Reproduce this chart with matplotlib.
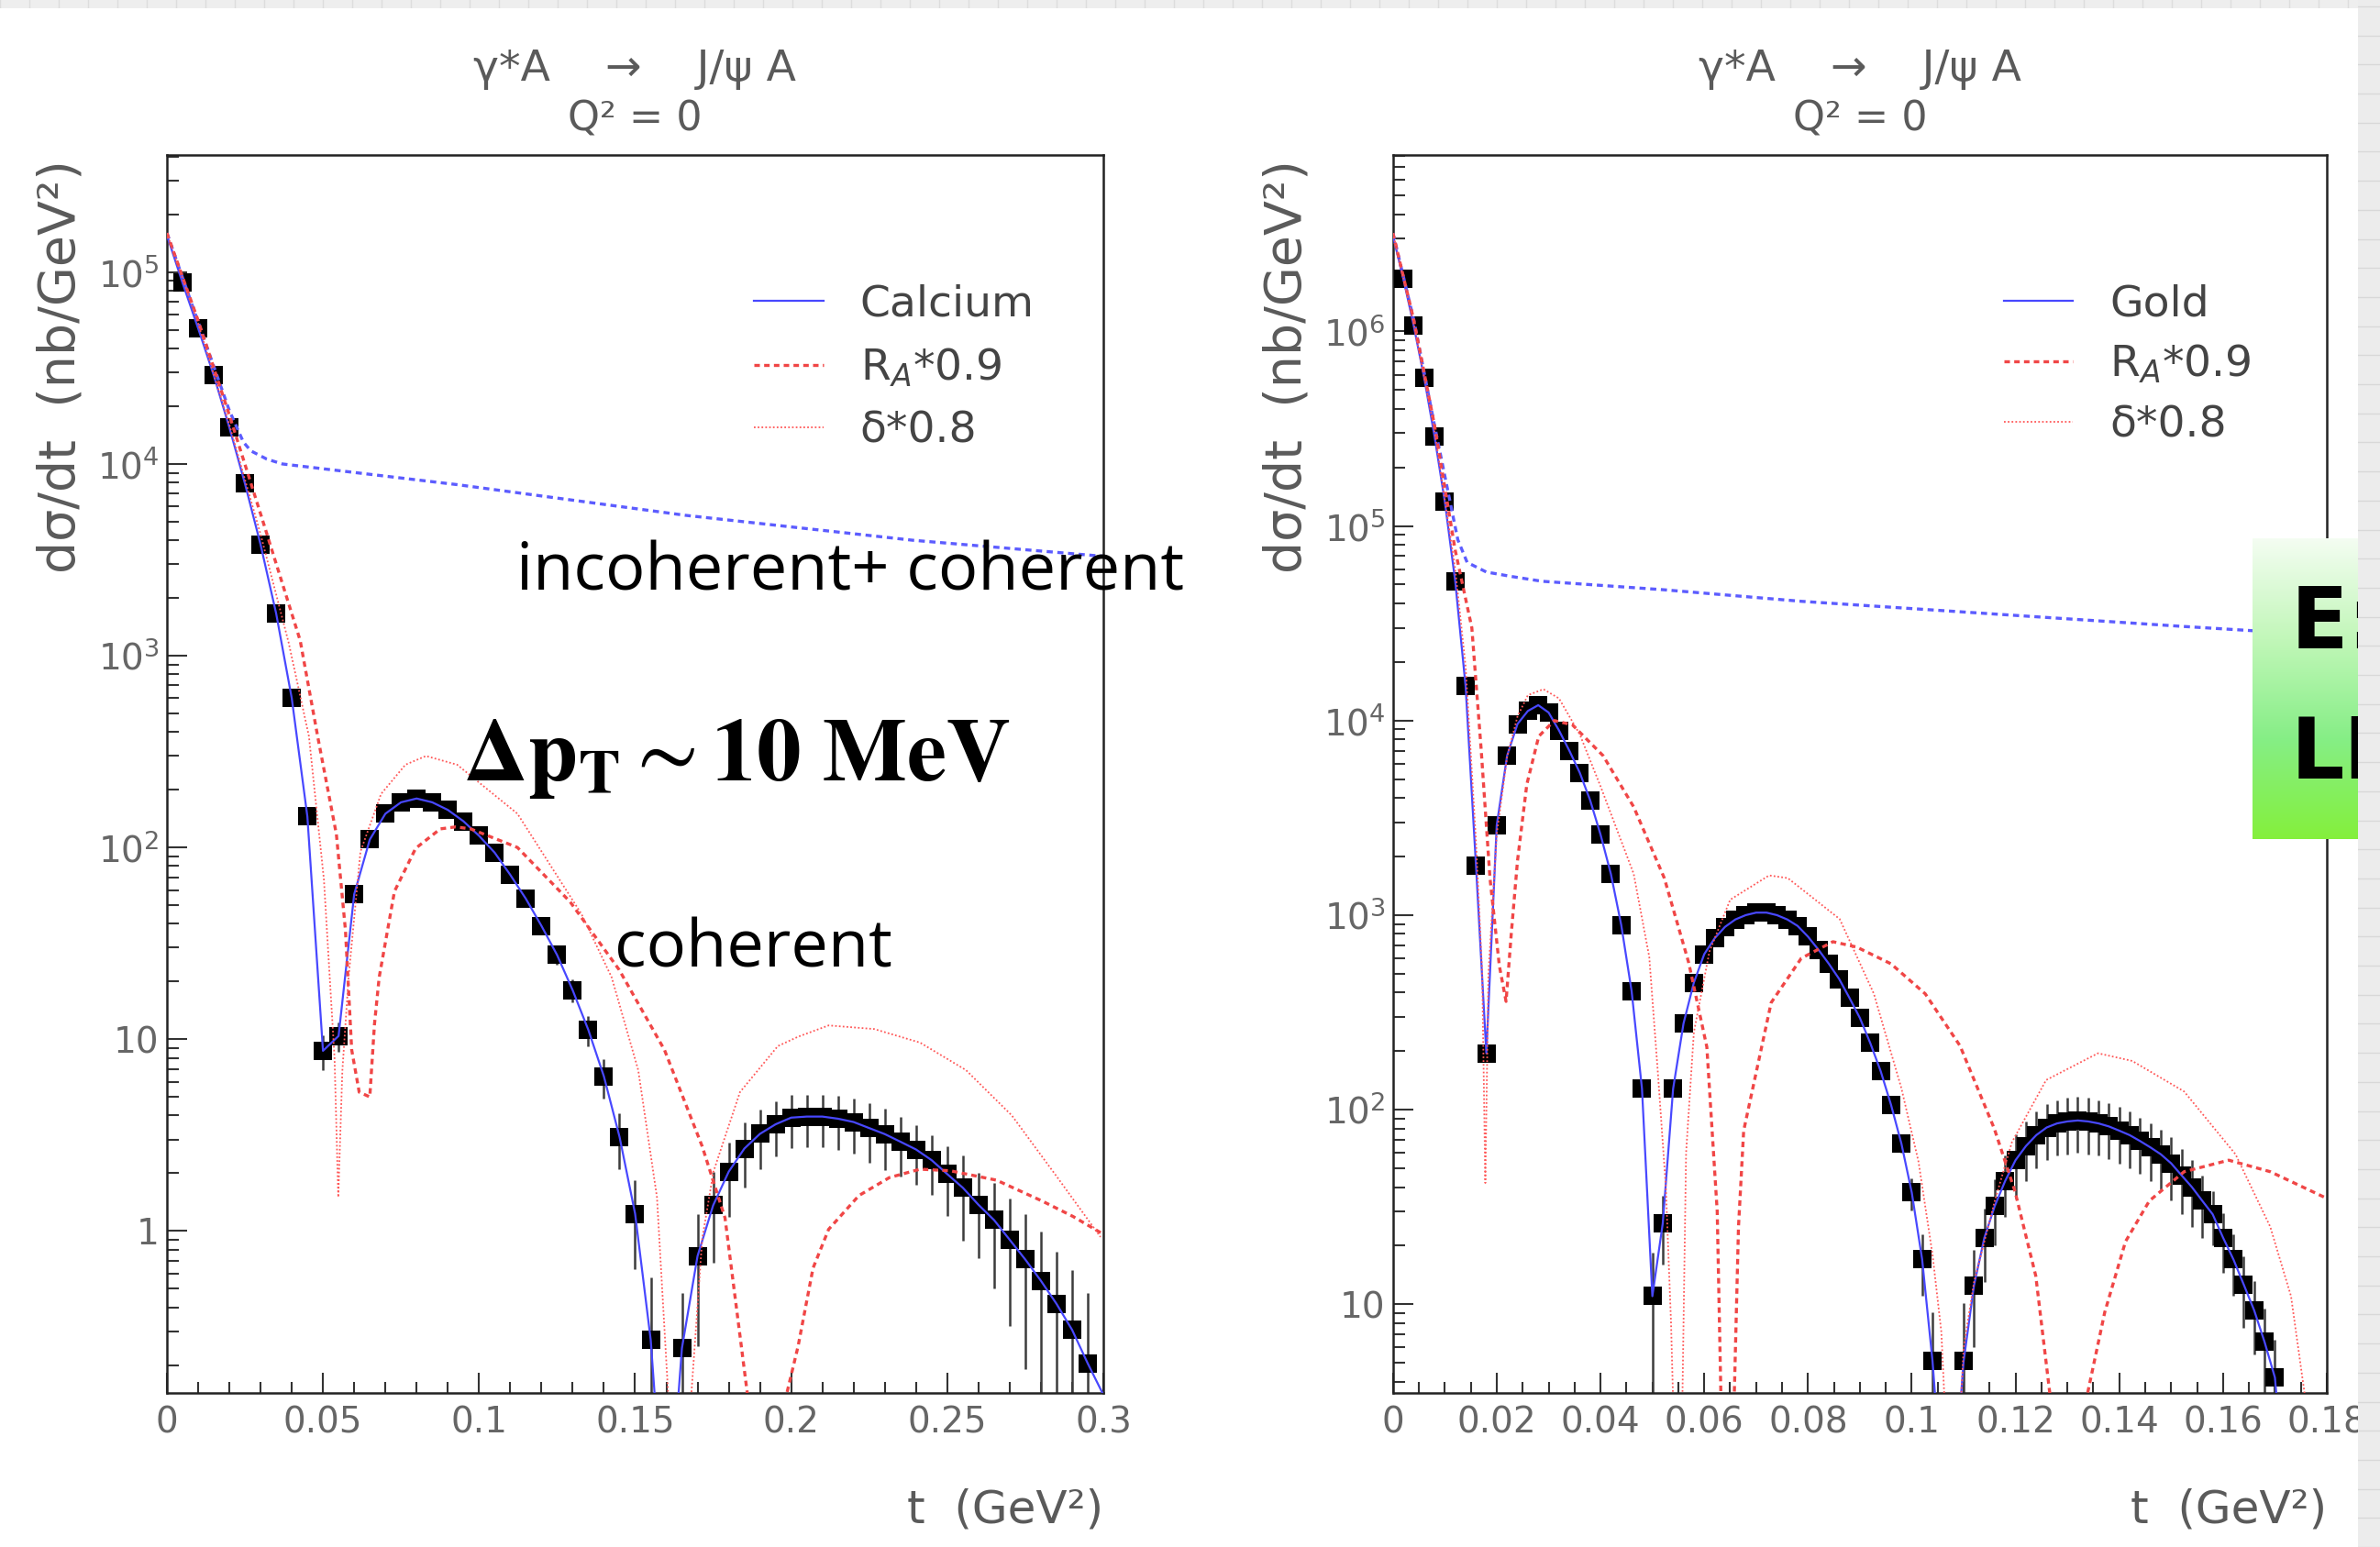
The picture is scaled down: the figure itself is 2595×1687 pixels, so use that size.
import numpy as np
import matplotlib.pyplot as plt
from matplotlib.ticker import FixedLocator, MultipleLocator, LogLocator, NullFormatter
from matplotlib.colors import LinearSegmentedColormap

# ---------------- Calcium (left panel) ----------------
ca_t = [0.005, 0.010, 0.015, 0.020, 0.025, 0.030, 0.035, 0.040, 0.045, 0.050,
        0.055, 0.060, 0.065, 0.070, 0.075, 0.080, 0.085, 0.090, 0.095, 0.100,
        0.105, 0.110, 0.115, 0.120, 0.125, 0.130, 0.135, 0.140, 0.145, 0.150,
        0.155, 0.165, 0.170, 0.175, 0.180, 0.185, 0.190, 0.195, 0.200, 0.205,
        0.210, 0.215, 0.220, 0.225, 0.230, 0.235, 0.240, 0.245, 0.250, 0.255,
        0.260, 0.265, 0.270, 0.275, 0.280, 0.285, 0.290, 0.295]
ca_y = [8.8e4, 5.1e4, 2.9e4, 1.55e4, 7.9e3, 3.8e3, 1.66e3, 600, 145, 8.7,
        10.4, 57, 110, 150, 172, 180, 172, 157, 137, 115,
        94, 72, 54, 39, 27.5, 18, 11.2, 6.4, 3.1, 1.23,
        0.27, 0.245, 0.74, 1.36, 2.04, 2.69, 3.21, 3.6, 3.9, 3.95,
        3.95, 3.85, 3.7, 3.44, 3.2, 2.92, 2.66, 2.34, 1.98, 1.68,
        1.37, 1.14, 0.90, 0.71, 0.55, 0.417, 0.305, 0.204]
ca_err = [400, 300, 200, 120, 70, 40, 25, 12, 6, 1.8,
          1.8, 4, 5, 6, 6, 6, 6, 6, 5.5, 5,
          5, 4.5, 4, 3.5, 3, 2.5, 2, 1.5, 1.0, 0.6,
          0.3, 0.23, 0.49, 0.68, 0.86, 1.0, 1.1, 1.15, 1.2, 1.2,
          1.2, 1.2, 1.18, 1.18, 1.12, 1.0, 0.91, 0.8, 0.78, 0.79,
          0.65, 0.64, 0.58, 0.52, 0.44, 0.36, 0.32, 0.27]
# extra points of the solid model curve (start and the dips)
ca_fit_xt = [0.0, 0.160, 0.300]
ca_fit_xy = [1.56e5, 0.02, 0.14]

ca_dash_t = [0.0, 0.01, 0.02, 0.03, 0.0427, 0.0484, 0.0543, 0.0572, 0.0592, 0.0616,
             0.0650, 0.0665, 0.068, 0.0729, 0.0797, 0.0876, 0.0925, 0.0973, 0.1123, 0.1292,
             0.1449, 0.1594, 0.1715, 0.1788, 0.186, 0.193, 0.1985, 0.2022, 0.207, 0.212,
             0.2217, 0.2315, 0.2413, 0.251, 0.2658, 0.2805, 0.2903, 0.2996]
ca_dash_y = [1.6e5, 5.6e4, 1.8e4, 5.5e3, 1.2e3, 372, 117, 37, 8.8, 5.3,
             5.0, 12, 21, 59, 99, 125, 128, 125, 100, 52,
             23, 8.8, 2.76, 1.17, 0.14, 0.01, 0.14, 0.25, 0.64, 1.02,
             1.53, 1.9, 2.1, 2.06, 1.84, 1.43, 1.19, 0.97]

ca_dot_t = [0.0, 0.01, 0.02, 0.03, 0.039, 0.0455, 0.0503, 0.0537, 0.0549, 0.0562,
            0.0582, 0.062, 0.0686, 0.0764, 0.083, 0.093, 0.1123, 0.1328, 0.1425, 0.151,
            0.157, 0.1606, 0.164, 0.168, 0.1715, 0.1751, 0.1836, 0.1957, 0.2022, 0.212,
            0.2266, 0.2413, 0.256, 0.2707, 0.2853, 0.2991]
ca_dot_y = [1.6e5, 5.4e4, 1.6e4, 4.3e3, 1.17e3, 380, 68, 8, 1.5, 6.8,
            21, 95, 190, 270, 300, 270, 150, 45, 21, 6.9,
            1.5, 0.14, 0.01, 0.14, 0.91, 2.04, 5.3, 9.2, 10.3, 11.8,
            11.3, 9.6, 6.9, 4.0, 1.9, 0.93]

ca_inc_t = [0.0, 0.01, 0.02, 0.0245, 0.0269, 0.032, 0.037, 0.093, 0.166, 0.239, 0.300]
ca_inc_y = [1.6e5, 5.5e4, 1.9e4, 1.3e4, 1.17e4, 1.06e4, 1.0e4, 7.8e3, 5.4e3, 4.0e3, 3.3e3]

# ---------------- Gold (right panel) ----------------
au_t = [0.002, 0.004, 0.006, 0.008, 0.010, 0.012, 0.014, 0.016, 0.018, 0.020,
        0.022, 0.024, 0.026, 0.028, 0.030, 0.032, 0.034, 0.036, 0.038, 0.040,
        0.042, 0.044, 0.046, 0.048, 0.050, 0.052, 0.054, 0.056, 0.058, 0.060,
        0.062, 0.064, 0.066, 0.068, 0.070, 0.072, 0.074, 0.076, 0.078, 0.080,
        0.082, 0.084, 0.086, 0.088, 0.090, 0.092, 0.094, 0.096, 0.098, 0.100,
        0.102, 0.104,
        0.110, 0.112, 0.114, 0.116, 0.118, 0.120, 0.122, 0.124, 0.126, 0.128,
        0.130, 0.132, 0.134, 0.136, 0.138, 0.140, 0.142, 0.144, 0.146, 0.148,
        0.150, 0.152, 0.154, 0.156, 0.158, 0.160, 0.162, 0.164, 0.166, 0.168,
        0.170]
au_y = [1.87e6, 1.07e6, 5.8e5, 2.9e5, 1.33e5, 5.2e4, 1.5e4, 1.8e3, 195, 2.9e3,
        6.6e3, 9.6e3, 1.12e4, 1.2e4, 1.1e4, 8.9e3, 7.0e3, 5.4e3, 3.9e3, 2.6e3,
        1.63e3, 890, 407, 128, 11, 26, 128, 277, 450, 630,
        760, 870, 950, 1000, 1030, 1030, 1000, 950, 880, 775,
        665, 563, 470, 375, 296, 220, 158, 106, 67, 37.5,
        17, 5.1,
        5.1, 12.5, 22, 32, 43, 55, 65, 74, 81, 85,
        87, 88, 87, 85, 82, 78, 74, 69, 64, 59,
        53, 46, 40, 34, 29, 22, 17, 12.6, 9.3, 6.4,
        4.2]
au_err = [9000, 5000, 3000, 1500, 700, 300, 100, 20, 8, 30,
          60, 90, 110, 120, 110, 90, 70, 55, 40, 28,
          18, 10, 6, 4, 7.5, 10, 8, 8, 9, 10,
          11, 12, 12, 12, 12, 12, 12, 12, 12, 12,
          12, 12, 11, 10, 9, 8, 7, 7, 7, 7,
          6, 4,
          5, 6.5, 9, 12, 15, 20, 22, 24, 26, 27,
          28, 28, 28, 27, 26, 25, 24, 22, 21, 20,
          19, 17, 15, 12, 9, 7.5, 6, 5, 3.8, 3.1,
          2.4]
au_fit_xt = [0.0, 0.106, 0.108, 0.172]
au_fit_xy = [3.1e6, 1.0, 1.0, 1.0]

au_dash_t = [0.0, 0.004, 0.008, 0.012, 0.0152, 0.017, 0.0187, 0.0205, 0.0218, 0.0228,
             0.024, 0.0258, 0.0281, 0.0311, 0.0346, 0.0405, 0.0464, 0.0523, 0.057, 0.0605,
             0.0625, 0.0632, 0.0645, 0.0658, 0.0666, 0.0676, 0.0729, 0.0787, 0.0848, 0.0894,
             0.096, 0.1026, 0.1093, 0.1159, 0.1199, 0.1239, 0.1266, 0.130, 0.1339, 0.1372,
             0.1412, 0.1458, 0.1525, 0.1611, 0.1691, 0.180]
au_dash_y = [3.2e6, 1.15e6, 3.3e5, 7.5e4, 3.0e4, 7.1e3, 1.55e3, 550, 360, 800,
             1.9e3, 4.7e3, 8.3e3, 1.0e4, 9.5e3, 6.6e3, 3.6e3, 1.55e3, 570, 210,
             30, 3.5, 0.5, 3.5, 25, 78, 355, 600, 730, 685,
             562, 394, 213, 80, 38, 14, 3.5, 0.5, 3.5, 9.1,
             21, 34, 48, 55, 48, 35]

au_dot_t = [0.0, 0.004, 0.008, 0.012, 0.014, 0.016, 0.0172, 0.0178, 0.0184, 0.020,
            0.022, 0.024, 0.026, 0.029, 0.032, 0.036, 0.040, 0.0464, 0.0494, 0.0511,
            0.0526, 0.0536, 0.0545, 0.0555, 0.0565, 0.058, 0.061, 0.065, 0.0725, 0.0761,
            0.0861, 0.0927, 0.098, 0.1013, 0.104, 0.1057, 0.1072, 0.1085, 0.110, 0.112,
            0.116, 0.1193, 0.1259, 0.1359, 0.1425, 0.1525, 0.1624, 0.1691, 0.1731, 0.1757,
            0.178]
au_dot_y = [3.2e6, 1.1e6, 3.1e5, 6.0e4, 1.9e4, 2.4e3, 500, 42, 500, 2.6e3,
            6.5e3, 1.05e4, 1.35e4, 1.45e4, 1.3e4, 8.5e3, 4.6e3, 1.63e3, 610, 150,
            40, 8, 1, 1, 60, 250, 650, 1.2e3, 1.6e3, 1.55e3,
            955, 394, 129, 54, 18, 7.2, 1, 1, 6, 13,
            34, 68, 142, 195, 178, 124, 59, 25, 11, 3.5,
            0.5]

au_inc_t = [0.0, 0.004, 0.008, 0.0125, 0.0143, 0.018, 0.0229, 0.0287, 0.0523, 0.0788,
            0.152, 0.1654, 0.180]
au_inc_y = [3.2e6, 1.15e6, 3.3e5, 8.5e4, 6.5e4, 5.8e4, 5.5e4, 5.2e4, 4.7e4, 4.1e4,
            3.05e4, 2.9e4, 2.75e4]

ca_xticks = [0, 0.05, 0.1, 0.15, 0.2, 0.25, 0.3]
ca_xlabels = ['0', '0.05', '0.1', '0.15', '0.2', '0.25', '0.3']
au_xticks = [0, 0.02, 0.04, 0.06, 0.08, 0.1, 0.12, 0.14, 0.16, 0.18]
au_xlabels = ['0', '0.02', '0.04', '0.06', '0.08', '0.1', '0.12', '0.14', '0.16', '0.18']
ca_yticks = [1, 10, 1e2, 1e3, 1e4, 1e5]
ca_ylabels = ['1', '10', '$10^{2}$', '$10^{3}$', '$10^{4}$', '$10^{5}$']
au_yticks = [10, 1e2, 1e3, 1e4, 1e5, 1e6]
au_ylabels = ['10', '$10^{2}$', '$10^{3}$', '$10^{4}$', '$10^{5}$', '$10^{6}$']

GRAY = '#5a5a5a'


def merged(t, y, xt, xy):
    pts = sorted(zip(list(t) + list(xt), list(y) + list(xy)))
    return [p[0] for p in pts], [p[1] for p in pts]


def draw_panel(ax, t, y, err, fit, dash, dot, inc, name, xlim, ylim,
               xticks, xlabels, xminor, yticks, ylabels, leg_anchor, leg_space):
    ax.errorbar(t, y, yerr=err, fmt='none', ecolor='#3c3c3c', elinewidth=1.8,
                capsize=0, zorder=2)
    ax.plot(t, y, 's', color='black', ms=15, mew=0, zorder=3)
    ax.plot(inc[0], inc[1], color='#5c5cff', lw=2.4, dashes=(2.0, 1.5), zorder=4)
    ax.plot(fit[0], fit[1], color='#4848ff', lw=1.6, zorder=5, label=name)
    ax.plot(dash[0], dash[1], color='#f04646', lw=2.4, dashes=(1.8, 1.4), zorder=5,
            label='R$_A$*0.9')
    ax.plot(dot[0], dot[1], color='#ff5858', lw=1.3, dashes=(1.0, 1.3), zorder=5,
            label='δ*0.8')
    ax.set_yscale('log')
    ax.set_xlim(*xlim)
    ax.set_ylim(*ylim)
    ax.xaxis.set_major_locator(FixedLocator(xticks))
    ax.set_xticklabels(xlabels)
    ax.xaxis.set_minor_locator(MultipleLocator(xminor))
    ax.yaxis.set_major_locator(FixedLocator(yticks))
    ax.set_yticklabels(ylabels)
    ax.yaxis.set_minor_locator(LogLocator(base=10, subs=np.arange(2, 10), numticks=30))
    ax.yaxis.set_minor_formatter(NullFormatter())
    ax.tick_params(which='both', direction='in', top=False, right=False,
                   color='#333333', width=1.5, labelcolor='#666666', labelsize=28)
    ax.tick_params(which='major', length=16)
    ax.tick_params(which='minor', length=9)
    ax.tick_params(axis='x', pad=10)
    ax.tick_params(axis='y', pad=6)
    for s in ax.spines.values():
        s.set_linewidth(1.8)
        s.set_color('#222222')
    ax.text(0.5, 1.069, 'γ*A    →    J/ψ A', transform=ax.transAxes, ha='center',
            va='center', fontsize=34, color=GRAY)
    ax.text(0.5, 1.029, 'Q² = 0', transform=ax.transAxes, ha='center', va='center',
            fontsize=32, color=GRAY)
    ax.text(-0.1136, 0.996, 'dσ/dt  (nb/GeV²)', transform=ax.transAxes, rotation=90,
            ha='center', va='top', fontsize=40, color=GRAY)
    ax.text(1.0, -0.0948, 't  (GeV²)', transform=ax.transAxes, ha='right',
            va='center', fontsize=36, color=GRAY)
    leg = ax.legend(loc='upper left', bbox_to_anchor=leg_anchor, frameon=False,
                    fontsize=34, handlelength=1.6, handletextpad=0.85,
                    labelspacing=leg_space, borderpad=0, borderaxespad=0)
    for txt in leg.get_texts():
        txt.set_color('#444444')


fig = plt.figure(figsize=(25.95, 16.87), dpi=100)
fig.patch.set_facecolor('white')

ax1 = fig.add_axes([0.07013, 0.09959, 0.39345, 0.80041])
ax2 = fig.add_axes([0.58528, 0.09959, 0.39237, 0.80041])

draw_panel(ax1, ca_t, ca_y, ca_err, merged(ca_t, ca_y, ca_fit_xt, ca_fit_xy),
           (ca_dash_t, ca_dash_y), (ca_dot_t, ca_dot_y), (ca_inc_t, ca_inc_y),
           'Calcium', (0, 0.3), (0.143, 4.1e5), ca_xticks, ca_xlabels, 0.01,
           ca_yticks, ca_ylabels, (0.627, 0.896), 0.50)
draw_panel(ax2, au_t, au_y, au_err, merged(au_t, au_y, au_fit_xt, au_fit_xy),
           (au_dash_t, au_dash_y), (au_dot_t, au_dot_y), (au_inc_t, au_inc_y),
           'Gold', (0, 0.18), (3.5, 8.1e6), au_xticks, au_xlabels, 0.005,
           au_yticks, au_ylabels, (0.654, 0.896), 0.43)

# annotations on the left panel
ax1.text(0.373, 0.6487, 'incoherent+ coherent', transform=ax1.transAxes,
         fontsize=52, family='Open Sans', color='black', va='baseline', zorder=10)
ax1.text(0.478, 0.3439, 'coherent', transform=ax1.transAxes,
         fontsize=52, family='Open Sans', color='black', va='baseline', zorder=10)
ax1.text(0.3164, 0.4947, r'$\mathbf{\Delta p_{T}} \sim \mathbf{10\ MeV}$',
         transform=ax1.transAxes, fontsize=70, math_fontfamily='stix',
         color='black', va='baseline', zorder=10)

# green slide box on the right edge
box = fig.add_axes([2456 / 2595, 1 - 915 / 1687, 115 / 2595, 328 / 1687])
green = LinearSegmentedColormap.from_list(
    'g', ['#f4fdf2', '#c2f7b9', '#86ee86', '#84f03c'])
box.imshow(np.linspace(0, 1, 256).reshape(-1, 1), aspect='auto', cmap=green,
           extent=[0, 1, 0, 1])
box.set_xlim(0, 1)
box.set_ylim(0, 1)
box.axis('off')
for label, yy in (('E:', 0.713), ('LH', 0.280)):
    box.text(0.365, yy, label, transform=box.transAxes, fontsize=66,
             fontweight='bold', family=['Liberation Sans Narrow', 'DejaVu Sans'],
             va='center', ha='left', clip_on=True)

# slide background strips (top and right)
top = fig.add_axes([0, 1 - 9 / 1687, 1, 9 / 1687])
top.set_facecolor('#eeeeee')
top.set_xlim(0, 2595)
top.set_xticks(np.arange(0, 2595, 32))
top.set_yticks([])
top.grid(True, axis='x', color='#dddddd', lw=1)
top.tick_params(length=0, labelbottom=False)
for s in top.spines.values():
    s.set_visible(False)

side = fig.add_axes([2571 / 2595, 0, 24 / 2595, 1])
side.set_facecolor('#ececec')
side.set_ylim(0, 1687)
side.set_yticks(np.arange(0, 1687, 31.7))
side.set_xticks([])
side.grid(True, axis='y', color='#d8d8d8', lw=1)
side.tick_params(length=0, labelleft=False)
for s in side.spines.values():
    s.set_visible(False)

fig.savefig('out.png', dpi=100, facecolor='white')
